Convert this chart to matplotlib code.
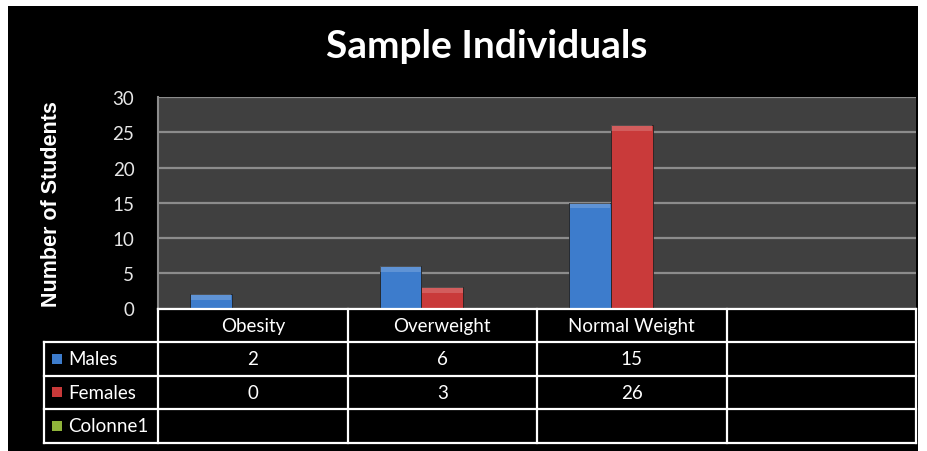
import matplotlib.pyplot as plt
import matplotlib.patches as mpatches
from matplotlib.lines import Line2D
import numpy as np

categories = ['Obesity', 'Overweight', 'Normal Weight', '']
series_names = ['Males', 'Females', 'Colonne1']
males = [2, 6, 15, None]
females = [0, 3, 26, None]
colonne1 = [None, None, None, None]
series_values = [males, females, colonne1]
series_colors = ['#3d7ccc', '#c93a3a', '#8fb33a']
yticks = [0, 5, 10, 15, 20, 25, 30]

W, H = 927, 452
fig = plt.figure(figsize=(W / 100, H / 100), dpi=100, facecolor='white')

def fx(px):
    return px / W

def fy(py):
    return 1 - py / H

# black chart background
fig.add_artist(mpatches.Rectangle((fx(8), fy(452)), fx(918) - fx(8), fy(7) - fy(452),
                                  transform=fig.transFigure, facecolor='black', edgecolor='none', zorder=0))

ax = fig.add_axes([fx(158), fy(309.5), fx(916) - fx(158), fy(98) - fy(309.5)])
ax.set_facecolor('#404040')
ax.set_xlim(-0.5, len(categories) - 0.5)
ax.set_ylim(0, 30)
ax.set_yticks(yticks)
ax.yaxis.grid(True, color='#8c8c8c', linewidth=1.6)
ax.set_axisbelow(True)
ax.set_xticks([])
for s in ax.spines.values():
    s.set_visible(False)
ax.spines['left'].set_visible(True)
ax.spines['left'].set_color('#8c8c8c')
ax.spines['left'].set_linewidth(1.5)
ax.tick_params(axis='y', length=0, pad=17, labelcolor='#e6e6e6', labelsize=13.5)
for lbl in ax.get_yticklabels():
    lbl.set_family('Lato')

width = 0.22
offsets = [-width, 0, width]
x = np.arange(len(categories))
for vals, col, off in zip(series_values, series_colors, offsets):
    v = [0 if a is None else a for a in vals]
    ax.bar(x + off, v, width=width, color=col, edgecolor='#222222', linewidth=0.6, zorder=3)
    # lighter top bevel
    ax.bar(x + off, [0.8 if a else 0 for a in v], bottom=[a - 0.8 if a else 0 for a in v],
           width=width * 0.98, color='white', alpha=0.18, linewidth=0, zorder=4)

ax.set_ylabel('Number of Students', color='white', fontsize=15.5, fontweight='bold',
              family='Liberation Sans', labelpad=36)

fig.text(fx(487), fy(47), 'Sample Individuals', color='white', fontsize=28, fontweight='bold',
         family='Lato', ha='center', va='center')

# data table under the plot
col_edges = [ax.transData.transform((i - 0.5, 0))[0] / W for i in range(len(categories) + 1)]
row_edges_px = [309.5, 343, 376.5, 410, 444]
label_left = fx(44)
lw = 1.6
tc = 'white'

def hline(x0, x1, ypx):
    fig.add_artist(Line2D([x0, x1], [fy(ypx), fy(ypx)], transform=fig.transFigure, color=tc, lw=lw))

def vline(xf, y0px, y1px):
    fig.add_artist(Line2D([xf, xf], [fy(y0px), fy(y1px)], transform=fig.transFigure, color=tc, lw=lw))

hline(col_edges[0], col_edges[-1], row_edges_px[0])
for ypx in row_edges_px[1:]:
    hline(label_left, col_edges[-1], ypx)
for xf in col_edges:
    vline(xf, row_edges_px[0], row_edges_px[-1])
vline(label_left, row_edges_px[1], row_edges_px[-1])

text_font = dict(color='white', fontsize=13.5, family='Lato', va='center')
for i, cat in enumerate(categories):
    xc = (col_edges[i] + col_edges[i + 1]) / 2
    fig.text(xc, fy((row_edges_px[0] + row_edges_px[1]) / 2), cat, ha='center', **text_font)

for r, (name, vals, col) in enumerate(zip(series_names, series_values, series_colors)):
    yc = fy((row_edges_px[r + 1] + row_edges_px[r + 2]) / 2)
    fig.add_artist(mpatches.Rectangle((fx(52), yc - 5 / H), 10 / W, 10 / H, transform=fig.transFigure,
                                      facecolor=col, edgecolor='none'))
    fig.text(fx(68), yc, name, ha='left', **text_font)
    for i, v in enumerate(vals):
        if v is None:
            continue
        xc = (col_edges[i] + col_edges[i + 1]) / 2
        fig.text(xc, yc, str(v), ha='center', **text_font)

fig.savefig('out.png', dpi=100, facecolor=fig.get_facecolor())
